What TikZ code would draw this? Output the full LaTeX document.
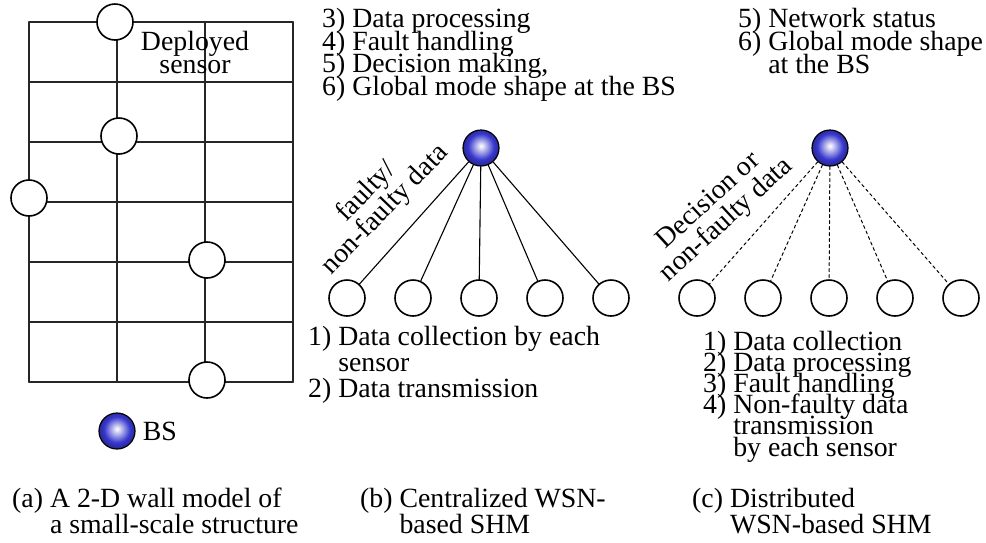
\documentclass[tikz,border=0pt]{standalone}
\usepackage{fontspec}
\setmainfont{Liberation Serif}
\usetikzlibrary{positioning}
\definecolor{bsblue}{RGB}{55,55,205}
\pgfdeclareradialshading{bsball}{\pgfpoint{0bp}{3bp}}{color(0bp)=(white); color(3bp)=(white!85!bsblue); color(18bp)=(bsblue); color(25bp)=(bsblue!75!black); color(50bp)=(bsblue!75!black)}
\newcommand\txtsize[1]{\fontsize{27.8}{#1}\selectfont\lineskiplimit=-100pt\lineskip=0pt}
\begin{document}
\begin{tikzpicture}[x=1pt,y=-1pt,line join=round,line cap=round,
  font=\txtsize{22.5},
  sensor/.style={circle,draw,line width=1.6pt,minimum size=36pt,inner sep=0pt,fill=white},
  bs/.style={circle,draw,line width=1.2pt,minimum size=36pt,inner sep=0pt,shading=bsball},
  grid/.style={line width=1.5pt,black!85},
  link/.style={line width=1.1pt},
  dlink/.style={line width=1pt,dash pattern=on 3pt off 3pt},
  txt/.style={inner sep=0pt,align=left,anchor=base west}]
\useasboundingbox (0,0) rectangle (986,542);
\def \gl{29};
\def \gr{293};
\def \gt{22};
\def \gb{382};
\foreach \x in {29,117,205,293}\draw[grid] (\x,\gt) -- (\x,\gb);
\foreach \y in {22,82,...,382}\draw[grid] (\gl,\y) -- (\gr,\y);
\node[sensor] (w1) at (115,22) {};
\node[sensor] (w2) at (119,136) {};
\node[sensor] (w3) at (29,198) {};
\node[sensor] (w4) at (207,260) {};
\node[sensor] (w5) at (207,380) {};
\node[inner sep=0pt,align=center,anchor=base] (deployed) at (195,73) {Deployed\\sensor};
\node[bs] (wbs) at (117,431) {};
\node[inner sep=0pt,right=7pt of wbs] (wbslabel) {BS};
\node[txt] (capa) at (12,533) {(a) A 2-D wall model of\\[3.5pt]\phantom{(a) }a small-scale structure};
\node[bs] (cbs) at (481,148) {};
\foreach \i/\x in {1/347,2/413,3/479,4/545,5/611}{
  \node[sensor] (cs\i) at (\x,298) {};
  \draw[link] (cbs) -- (cs\i);
}
\node[inner sep=0pt,align=center,rotate=46,font=\txtsize{26}] (clabel) at (376,201) {faulty/\\non-faulty data};
\node[txt] (ctop) at (322,95) {3) Data processing\\4) Fault handling\\5) Decision making,\\6) Global mode shape at the BS};
\node[txt,font=\txtsize{26}] (cbot) at (308,397) {1) Data collection by each\\\phantom{1) }sensor\\2) Data transmission};
\node[txt] (capb) at (360,533) {(b) Centralized WSN-\\[3.5pt]\phantom{(b) }based SHM};
\node[bs] (dbs) at (830,148) {};
\foreach \i/\x in {1/697,2/763,3/829,4/895,5/961}{
  \node[sensor] (ds\i) at (\x,298) {};
  \draw[dlink] (dbs) -- (ds\i);
}
\node[inner sep=0pt,align=center,rotate=42.6,font=\txtsize{26}] (dlabel) at (718,211) {Decision or\\non-faulty data};
\node[txt,font=\txtsize{23}] (dtop) at (738,73) {5) Network status\\6) Global mode shape\\\phantom{6) }at the BS};
\node[txt,font=\txtsize{21.2}] (dbot) at (703,456) {1) Data collection\\2) Data processing\\3) Fault handling\\4) Non-faulty data\\\phantom{4) }transmission\\\phantom{4) }by each sensor};
\node[txt] (capc) at (692,533) {(c) Distributed\\[3.5pt]\phantom{(c) }WSN-based SHM};
\end{tikzpicture}
\end{document}
